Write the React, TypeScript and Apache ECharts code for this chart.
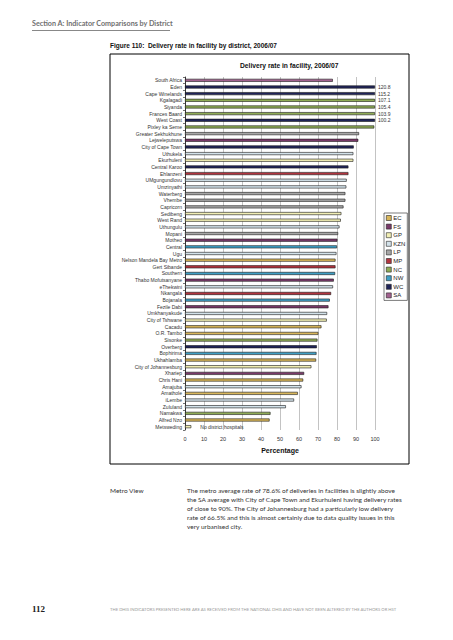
import React, { useEffect, useRef } from "react";
import * as echarts from "echarts";

const districts = [
  "South Africa", "Eden", "Cape Winelands", "Kgalagadi", "Siyanda", "Frances Baard", "West Coast",
  "Pixley ka Seme", "Greater Sekhukhune", "Lejweleputswa", "City of Cape Town", "Uthukela", "Ekurhuleni",
  "Central Karoo", "Ehlanzeni", "UMgungundlovu", "Umzinyathi", "Waterberg", "Vhembe", "Capricorn",
  "Sedibeng", "West Rand", "Uthungulu", "Mopani", "Motheo", "Central", "Ugu", "Nelson Mandela Bay Metro",
  "Gert Sibande", "Southern", "Thabo Mofutsanyane", "eThekwini", "Nkangala", "Bojanala", "Fezile Dabi",
  "Umkhanyakude", "City of Tshwane", "Cacadu", "O.R. Tambo", "Sisonke", "Overberg", "Bophirima",
  "Ukhahlamba", "City of Johannesburg", "Xhariep", "Chris Hani", "Amajuba", "Amathole", "iLembe",
  "Zululand", "Namakwa", "Alfred Nzo", "Metsweding",
];

const rates = [
  77.8, 120.8, 115.2, 107.1, 105.4, 103.9, 100.2,
  99.6, 91.6, 91.2, 88.8, 88.6, 88.6,
  86.0, 86.0, 85.1, 84.9, 84.4, 84.4, 83.4,
  82.3, 82.0, 81.3, 80.6, 80.2, 80.0, 79.7, 79.2,
  79.2, 79.0, 78.3, 77.9, 76.9, 76.2, 75.5,
  74.8, 74.6, 71.8, 70.2, 69.7, 69.4, 69.2,
  69.0, 66.5, 62.7, 62.2, 61.3, 59.4, 57.4,
  53.1, 45.0, 44.5, 3.3,
];

const provinces = [
  "SA", "WC", "WC", "NC", "NC", "NC", "WC",
  "NC", "LP", "FS", "WC", "KZN", "GP",
  "WC", "MP", "KZN", "KZN", "LP", "LP", "LP",
  "GP", "GP", "KZN", "LP", "FS", "NW", "KZN", "EC",
  "MP", "NW", "FS", "KZN", "MP", "NW", "FS",
  "KZN", "GP", "EC", "EC", "NC", "WC", "NW",
  "EC", "GP", "FS", "EC", "KZN", "EC", "KZN",
  "KZN", "NC", "EC", "GP",
];

const provinceKeys = ["EC", "FS", "GP", "KZN", "LP", "MP", "NC", "NW", "WC", "SA"];
const provinceColors = ["#d8b65a", "#7a3a6a", "#f1eeb4", "#d3e2ea", "#a6a6a6", "#b2343f", "#8eab55", "#3f9fc5", "#1f2358", "#a2618f"];

const xTicks = [0, 10, 20, 30, 40, 50, 60, 70, 80, 90, 100];
const noteDistrict = "Metsweding";
const noteText = "No district hospitals";

const paragraph = [
  "The metro average rate of 78.6% of deliveries in facilities is slightly above",
  "the SA average with City of Cape Town and Ekurhuleni having delivery rates",
  "of close to 90%. The City of Johannesburg had a particularly low delivery",
  "rate of 66.5% and this is almost certainly due to data quality issues in this",
  "very urbanised city.",
];

export default function App() {
  const ref = useRef<HTMLDivElement>(null);
  useEffect(() => {
    if (!ref.current) return;
    const chart = echarts.init(ref.current, null, { renderer: "svg" });
    const xMax = xTicks[xTicks.length - 1];
    const series = provinceKeys.map((p, pi) => ({
      name: p,
      type: "bar",
      stack: "all",
      barWidth: 3,
      clip: true,
      itemStyle: { color: provinceColors[pi], borderColor: "#1a1a1a", borderWidth: 0.6 },
      label: {
        show: true,
        position: "right",
        distance: 3,
        fontSize: 5,
        fontFamily: "Liberation Sans",
        color: "#333",
        formatter: (prm: any) => (prm.data && prm.data.raw > xMax ? String(prm.data.raw) : ""),
      },
      data: rates.map((v, i) => {
        if (provinces[i] !== p) return "-";
        const item: any = { value: Math.min(v, xMax), raw: v };
        if (districts[i] === noteDistrict) {
          item.label = { show: true, formatter: noteText, position: "right", distance: 9, fontSize: 5, color: "#333" };
        }
        return item;
      }),
    }));

    chart.setOption({
      animation: false,
      backgroundColor: "#fff",
      textStyle: { fontFamily: "Liberation Sans" },
      grid: { left: 185, right: 78, top: 77, bottom: 210, containLabel: false },
      xAxis: {
        type: "value",
        min: 0,
        max: xMax,
        interval: 10,
        axisLine: { show: false },
        axisTick: { show: false },
        axisLabel: { fontSize: 5.5, color: "#333", margin: 6 },
        splitLine: { lineStyle: { color: "#9a9a9a", width: 0.6 } },
        name: "Percentage",
        nameLocation: "middle",
        nameGap: 16,
        nameTextStyle: { fontSize: 7, fontWeight: "bold", color: "#111" },
      },
      yAxis: {
        type: "category",
        inverse: true,
        data: districts,
        axisLine: { show: true, lineStyle: { color: "#111", width: 0.8 } },
        axisTick: { show: true, length: 2, lineStyle: { color: "#111", width: 0.6 } },
        axisLabel: { fontSize: 5, color: "#333", margin: 3, interval: 0 },
      },
      legend: {
        orient: "vertical",
        left: 384,
        top: 213,
        data: provinceKeys,
        itemWidth: 5,
        itemHeight: 5,
        itemGap: 2.6,
        padding: [2, 2, 2, 2],
        borderColor: "#222",
        borderWidth: 0.6,
        textStyle: { fontSize: 6, lineHeight: 6, color: "#222", padding: [0, 0, 0, -3] },
        icon: "rect",
        itemStyle: { borderColor: "#222", borderWidth: 0.6 },
      },
      graphic: [
        { type: "text", left: 32, top: 20, style: { text: "Section A: Indicator Comparisons by District", fontSize: 7.2, fontWeight: "bold", fontFamily: "Lato", fill: "#707070" } },
        { type: "line", shape: { x1: 32, y1: 30.5, x2: 170, y2: 30.5 }, style: { stroke: "#888", lineWidth: 1 } },
        { type: "text", left: 110, top: 42, style: { text: "Figure 110:  Delivery rate in facility by district, 2006/07", fontSize: 6.5, fontWeight: "bold", fontFamily: "Liberation Sans", fill: "#111" } },
        { type: "rect", shape: { x: 110, y: 54, width: 299, height: 410 }, style: { fill: "none", stroke: "#000", lineWidth: 1 } },
        { type: "text", left: 240, top: 62, style: { text: "Delivery rate in facility, 2006/07", fontSize: 6.7, fontWeight: "bold", fontFamily: "Liberation Sans", fill: "#111" } },
        { type: "text", left: 110, top: 487, style: { text: "Metro View", fontSize: 6.5, fontFamily: "Lato", fill: "#333" } },
        { type: "text", left: 187, top: 486, style: { text: paragraph.join("\n"), fontSize: 6.5, lineHeight: 9, fontFamily: "Lato", fill: "#333" } },
        { type: "text", left: 32, top: 604, style: { text: "112", fontSize: 9, fontWeight: "bold", fontFamily: "Liberation Serif", fill: "#222" } },
        { type: "text", left: 110, top: 607, style: { text: "THE DHIS INDICATORS PRESENTED HERE ARE AS RECEIVED FROM THE NATIONAL DHIS AND HAVE NOT BEEN ALTERED BY THE AUTHORS OR HST", fontSize: 4.2, fontFamily: "Lato", fill: "#9a9a9a" } },
      ],
      series,
    });
    return () => chart.dispose();
  }, []);
  return <div ref={ref} style={{ position: "absolute", left: 0, top: 0, width: 453, height: 640 }} />;
}
